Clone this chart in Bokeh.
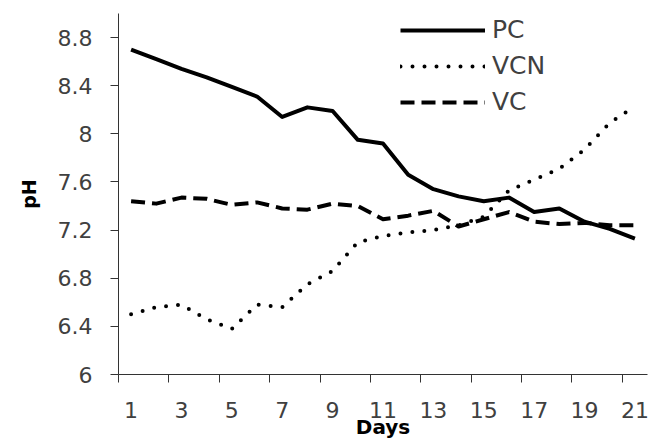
from bokeh.plotting import figure
from bokeh.models import FixedTicker, CustomJSTickFormatter, Legend, LegendItem
from bokeh.embed import file_html
from bokeh.resources import INLINE

# pH readings over 21 days for three treatments
days = list(range(1, 22))
pc = [8.70, 8.62, 8.54, 8.47, 8.39, 8.31, 8.14, 8.22, 8.19, 7.95, 7.92,
      7.66, 7.54, 7.48, 7.44, 7.47, 7.35, 7.38, 7.27, 7.21, 7.13]
vcn = [6.50, 6.56, 6.58, 6.46, 6.38, 6.58, 6.56, 6.75, 6.86, 7.10, 7.15,
       7.18, 7.20, 7.24, 7.31, 7.53, 7.62, 7.71, 7.87, 8.09, 8.23]
vc = [7.44, 7.42, 7.47, 7.46, 7.41, 7.43, 7.38, 7.37, 7.42, 7.40, 7.29,
      7.32, 7.36, 7.23, 7.29, 7.35, 7.27, 7.25, 7.26, 7.24, 7.24]

x_tick_days = [1, 3, 5, 7, 9, 11, 13, 15, 17, 19, 21]
x_tick_labels = ["1", "3", "5", "7", "9", "11", "13", "15", "17", "19", "21"]
y_ticks = [6, 6.4, 6.8, 7.2, 7.6, 8, 8.4, 8.8]
y_tick_labels = ["6", "6.4", "6.8", "7.2", "7.6", "8", "8.4", "8.8"]

TICK_COLOR = "#404040"
FONT = "DejaVu Sans"
LOOKUP = ("const i = tick_vals.findIndex(t => Math.abs(t - tick) < 1e-6);"
          " return i >= 0 ? tick_text[i] : '';")

p = figure(width=662, height=441, x_range=(0.5, 21.5), y_range=(6, 9),
           output_backend="svg", toolbar_location=None,
           min_border_left=118, min_border_right=15,
           min_border_top=13, min_border_bottom=66)
p.outline_line_color = None
p.grid.visible = False

# tick marks sit between category pairs, labels on the odd days
boundaries = [d - 0.5 for d in x_tick_days]
xa = p.xaxis[0]
xa.ticker = FixedTicker(ticks=x_tick_days, minor_ticks=boundaries)
xa.formatter = CustomJSTickFormatter(
    args=dict(tick_vals=x_tick_days, tick_text=x_tick_labels), code=LOOKUP)
xa.major_tick_out = 0
xa.major_tick_in = 0
xa.minor_tick_out = 8
xa.minor_tick_in = 0
xa.minor_tick_line_color = "#333333"
xa.axis_line_color = "#333333"
xa.major_label_standoff = 19
xa.major_label_text_font = FONT
xa.major_label_text_font_size = "22px"
xa.major_label_text_color = TICK_COLOR
xa.axis_label = "Days"
xa.axis_label_text_font = FONT
xa.axis_label_text_font_style = "bold"
xa.axis_label_text_font_size = "20px"
xa.axis_label_text_color = "black"
xa.axis_label_standoff = -6

ya = p.yaxis[0]
ya.ticker = FixedTicker(ticks=y_ticks, minor_ticks=[])
ya.formatter = CustomJSTickFormatter(
    args=dict(tick_vals=y_ticks, tick_text=y_tick_labels), code=LOOKUP)
ya.major_tick_out = 8
ya.major_tick_in = 0
ya.major_tick_line_color = "#333333"
ya.axis_line_color = "#333333"
ya.major_label_standoff = 18
ya.major_label_text_font = FONT
ya.major_label_text_font_size = "22px"
ya.major_label_text_color = TICK_COLOR
ya.axis_label = "pH"
ya.axis_label_text_font = FONT
ya.axis_label_text_font_style = "bold"
ya.axis_label_text_font_size = "19px"
ya.axis_label_text_color = "black"
ya.axis_label_standoff = 15

r_pc = p.line(days, pc, line_color="black", line_width=4, line_join="round")
r_vcn = p.line(days, vcn, line_color="black", line_width=4, line_dash="0 12",
               line_cap="round", line_join="round")
r_vc = p.line(days, vc, line_color="black", line_width=4, line_dash="14 7",
              line_join="round")

legend = Legend(items=[LegendItem(label="PC", renderers=[r_pc]),
                       LegendItem(label="VCN", renderers=[r_vcn]),
                       LegendItem(label="VC", renderers=[r_vc])],
                location=(282, 258), orientation="vertical",
                glyph_width=85, glyph_height=24, label_height=24,
                label_standoff=7, spacing=7, padding=0, margin=0,
                border_line_alpha=0, background_fill_alpha=0,
                label_text_font=FONT, label_text_font_size="25px",
                label_text_color=TICK_COLOR)
p.add_layout(legend)

open("out.html", "w").write(file_html(p, INLINE))
